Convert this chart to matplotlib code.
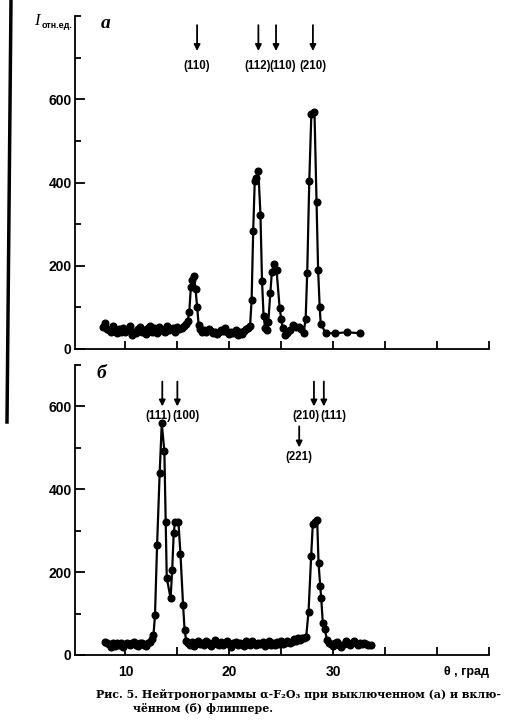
import matplotlib
matplotlib.use('Agg')
import matplotlib.pyplot as plt
from matplotlib.lines import Line2D

# panel (a): flipper off
top_theta = [7.8, 8.0, 8.2, 8.4, 8.6, 8.8, 9.0, 9.2, 9.4, 9.6, 9.8, 10.0, 10.2, 10.4, 10.6, 10.8,
             11.0, 11.2, 11.4, 11.6, 11.8, 12.0, 12.2, 12.4, 12.6, 12.8, 13.0, 13.2, 13.4, 13.6, 13.8,
             14.0, 14.2, 14.4, 14.6, 14.8, 15.0, 15.2, 15.4, 15.6, 15.8,
             16.0, 16.15, 16.3, 16.45, 16.6, 16.75, 16.9, 17.05, 17.2,
             17.4, 17.6, 17.8, 18.0, 18.2, 18.4, 18.6, 18.8, 19.0, 19.2, 19.4, 19.6, 19.8, 20.0,
             20.2, 20.4, 20.6, 20.8, 21.0, 21.2, 21.4, 21.6, 21.8, 22.0,
             22.15, 22.3, 22.45, 22.6, 22.8, 23.0, 23.15, 23.3, 23.45,
             23.6, 23.75, 23.95, 24.1, 24.3, 24.55, 24.85, 25.0, 25.15, 25.4, 25.6, 25.8,
             26.1, 26.4, 26.7, 26.95, 27.15,
             27.35, 27.5, 27.7, 27.9, 28.2, 28.4, 28.55, 28.7, 28.8, 29.3, 30.2, 31.3, 32.6]
top_counts = [52, 62, 48, 45, 40, 55, 44, 38, 47, 42, 50, 40, 45, 55, 33, 42,
              38, 48, 52, 40, 45, 36, 50, 55, 42, 50, 38, 52, 48, 44, 40,
              56, 45, 48, 50, 42, 52, 48, 50, 55, 60,
              68, 90, 148, 165, 175, 145, 102, 58, 48,
              42, 45, 40, 48, 44, 38, 42, 36, 40, 46, 44, 50, 42, 35,
              40, 38, 45, 34, 40, 36, 44, 48, 50, 55,
              118, 283, 403, 410, 427, 323, 164, 80, 50,
              46, 64, 134, 186, 205, 189, 98, 72, 50, 34, 38, 45,
              58, 54, 52, 48, 38,
              72, 182, 403, 565, 570, 352, 190, 102, 60, 38, 38, 40, 38]

# panel (б): flipper on
bot_theta = [8.0, 8.2, 8.4, 8.6, 8.8, 9.0, 9.2, 9.4, 9.6, 9.8, 10.0, 10.2, 10.4, 10.6, 10.8,
             11.0, 11.2, 11.4, 11.6, 11.8, 12.0, 12.2, 12.4,
             12.55, 12.7, 12.85, 13.05, 13.3, 13.5, 13.75, 13.88, 13.98, 14.35, 14.5, 14.65,
             14.78, 15.1, 15.3, 15.55, 15.7, 15.85,
             16.0, 16.2, 16.4, 16.6, 16.8, 17.0, 17.2, 17.4, 17.6, 17.8, 18.0, 18.2, 18.4, 18.6,
             18.8, 19.0, 19.2, 19.4, 19.6, 19.8, 20.0, 20.2, 20.4, 20.6, 20.8, 21.0, 21.2, 21.4,
             21.6, 21.8, 22.0, 22.2, 22.4, 22.6, 22.8, 23.0, 23.2, 23.4, 23.6, 23.8, 24.0, 24.2,
             24.4, 24.6, 24.8, 25.0, 25.2, 25.4, 25.6, 25.8, 26.0, 26.2, 26.4, 26.6, 26.8, 27.0, 27.2,
             27.4, 27.63, 27.88, 28.04, 28.25, 28.46, 28.59, 28.75, 28.85, 29.0, 29.2, 29.4,
             29.6, 29.8, 30.0, 30.2, 30.4, 30.6, 30.8, 31.0, 31.2, 31.4, 31.6, 31.8, 32.0, 32.2,
             32.4, 32.6, 32.8, 33.0, 33.2, 33.4, 33.6]
bot_counts = [32, 30, 26, 20, 28, 22, 30, 25, 28, 20, 26, 30, 24, 28, 32,
              25, 22, 28, 30, 24, 22, 28, 32,
              38, 48, 97, 266, 440, 559, 492, 322, 186, 137, 204, 294,
              322, 322, 244, 121, 60, 35,
              29, 25, 32, 22, 28, 35, 26, 30, 24, 33, 28, 22, 30, 36,
              27, 25, 31, 23, 29, 34, 26, 20, 28, 32, 24, 30, 27, 22,
              33, 29, 25, 35, 28, 23, 30, 26, 32, 21, 28, 34, 25, 29,
              24, 31, 27, 33, 26, 30, 35, 28, 32, 38, 34, 40, 36, 42, 40,
              44, 105, 238, 317, 322, 325, 223, 167, 137, 78, 62, 36,
              30, 26, 22, 28, 32, 24, 20, 27, 33, 29, 25, 30, 35, 28,
              24, 30, 26, 29, 27, 25, 24]

x_ticks = [10, 15, 20, 25, 30, 35, 40, 45]
x_labels = ['10', '', '20', '', '30', '', '', '']

# reflections: (arrow x, label x, label, alignment)
top_marks = [(16.9, 16.9, '(110)', 'center'), (22.8, 22.7, '(112)', 'center'),
             (24.5, 25.15, '(110)', 'center'), (28.05, 28.05, '(210)', 'center')]
bot_marks = [(13.55, 14.47, '(111)', 'right'), (15.0, 14.53, '(100)', 'left'),
             (28.15, 28.72, '(210)', 'right'), (29.1, 28.78, '(111)', 'left')]

sans = 'Liberation Sans'
W, H = 520, 726
fig = plt.figure(figsize=(W / 100, H / 100), dpi=100, facecolor='w')


def make_axes(bottom_px, top_px, ymax, minor):
    ax = fig.add_axes([74.5 / W, 1 - bottom_px / H, (489 - 74.5) / W, (bottom_px - top_px) / H])
    ax.set_xlim(5.1, 45)
    ax.set_ylim(0, ymax)
    for s in ['top', 'right']:
        ax.spines[s].set_visible(False)
    for s in ['left', 'bottom']:
        ax.spines[s].set_linewidth(1.3)
    ax.set_xticks(x_ticks)
    ax.set_yticks([0, 200, 400, 600])
    ax.set_yticks(minor, minor=True)
    ax.tick_params(axis='x', direction='in', length=6, width=1.3, pad=7)
    ax.tick_params(axis='y', which='major', direction='in', length=7, width=1.3, pad=2)
    ax.tick_params(axis='y', which='minor', direction='in', length=4.5, width=1.3)
    for lab in ax.get_yticklabels():
        lab.set_fontfamily(sans)
        lab.set_fontweight('bold')
        lab.set_fontsize(10)
    return ax


def mark(ax, x, y_tail, y_head):
    ax.annotate('', xy=(x, y_head), xytext=(x, y_tail),
                arrowprops=dict(arrowstyle='-|>', color='k', lw=1.3, mutation_scale=9,
                                shrinkA=0, shrinkB=0))


def hkl(ax, x, y, s, ha='center'):
    ax.text(x, y, s, ha=ha, va='center', fontfamily=sans, fontweight='bold', fontsize=8.3)


# верхняя панель
ax1 = make_axes(349, 16, 800, [100, 300, 500, 700, 800])
ax1.set_xticklabels([''] * len(x_ticks))
ax1.plot(top_theta, top_counts, '-o', color='k', lw=1.6, ms=4.8)
for xa, xl, s, ha in top_marks:
    mark(ax1, xa, 778, 716)
    hkl(ax1, xl, 680, s, ha)

# нижняя панель
ax2 = make_axes(655, 365, 700, [100, 300, 500, 700])
ax2.set_xticklabels(x_labels)
for lab in ax2.get_xticklabels():
    lab.set_fontfamily(sans)
    lab.set_fontweight('bold')
    lab.set_fontsize(10)
ax2.plot(bot_theta, bot_counts, '-o', color='k', lw=1.6, ms=4.8)
for xa, xl, s, ha in bot_marks:
    mark(ax2, xa, 660, 600)
    hkl(ax2, xl, 576, s, ha)
mark(ax2, 26.73, 552, 501)
hkl(ax2, 26.73, 477, '(221)')

# подписи
fig.text(37 / W, 1 - 21 / H, 'I', fontfamily='Liberation Serif', fontstyle='italic', fontsize=12,
         ha='center', va='center')
fig.text(42 / W, 1 - 25 / H, 'отн.ед.', fontfamily=sans, fontweight='bold', fontsize=6.5,
         ha='left', va='center')
fig.text(106 / W, 1 - 24 / H, 'а', fontfamily='Liberation Serif', fontstyle='italic',
         fontweight='bold', fontsize=14, ha='center', va='center')
fig.text(101 / W, 1 - 374 / H, 'б', fontfamily='Liberation Serif', fontstyle='italic',
         fontweight='bold', fontsize=14, ha='center', va='center')
fig.text(466 / W, 1 - 672 / H, 'θ , град', fontfamily=sans, fontweight='bold', fontsize=9,
         ha='center', va='center')

serif = ['DejaVu Serif']
fig.text(96 / W, 1 - 694 / H, 'Рис. 5. Нейтронограммы α-F₂O₃ при выключенном (а) и вклю-',
         fontfamily=serif, fontweight='bold', fontsize=7.9, ha='left', va='center')
fig.text(133 / W, 1 - 708 / H, 'чённом (б) флиппере.',
         fontfamily=serif, fontweight='bold', fontsize=7.9, ha='left', va='center')

# край страницы на скане
fig.add_artist(Line2D([11 / W, 7 / W], [1, 1 - 422 / H], transform=fig.transFigure, lw=2.5, color='k'))

fig.savefig('out.png', dpi=100, facecolor='w')
